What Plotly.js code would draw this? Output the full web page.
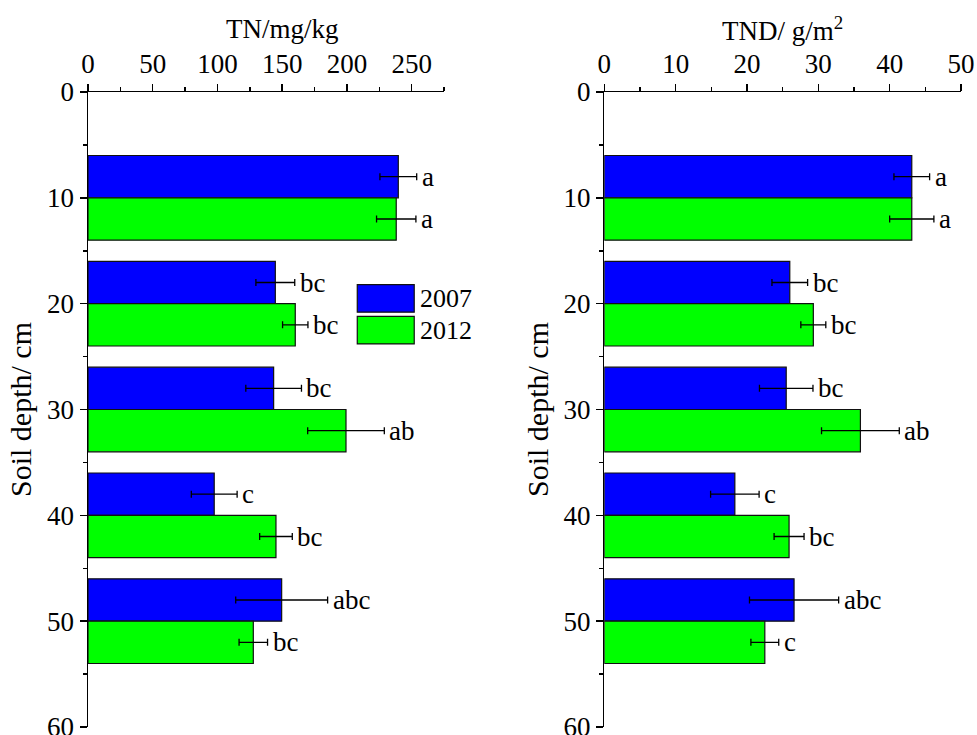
<!DOCTYPE html>
<html>
<head>
<meta charset="utf-8">
<script src="https://cdn.plot.ly/plotly-3.0.1.min.js"></script>
<style>html,body{margin:0;padding:0;background:#fff;}#chart{width:977px;height:735px;}</style>
</head>
<body>
<div id="chart"></div>
<script>
// ---- data ----
const depths = [10, 20, 30, 40, 50];
const years = ['2007', '2012'];

const tn2007 = [239.7, 144.7, 143.4, 97.5, 149.6];
const tn2007Err = [14.2, 15.0, 21.5, 17.7, 35.5];
const tn2007Sig = ['a', 'bc', 'bc', 'c', 'abc'];
const tn2012 = [238.1, 160.1, 199.3, 145.2, 127.7];
const tn2012Err = [15.2, 9.8, 29.6, 12.6, 11.0];
const tn2012Sig = ['a', 'bc', 'ab', 'bc', 'bc'];

const tnd2007 = [43.1, 26.0, 25.5, 18.3, 26.6];
const tnd2007Err = [2.5, 2.5, 3.75, 3.4, 6.25];
const tnd2007Sig = ['a', 'bc', 'bc', 'c', 'abc'];
const tnd2012 = [43.1, 29.3, 35.9, 25.9, 22.5];
const tnd2012Err = [3.1, 1.75, 5.45, 2.1, 1.95];
const tnd2012Sig = ['a', 'bc', 'ab', 'bc', 'c'];

// ---- style ----
const FONT = 'Liberation Serif, Times New Roman, serif';
const BLUE = '#0000FF', GREEN = '#00FF00';
const BAR_W = 4;

function barTrace(vals, errs, color, name, xa, ya) {
  return {
    type: 'bar', orientation: 'h', name: name,
    x: vals, y: depths, xaxis: xa, yaxis: ya,
    marker: {color: color, line: {color: '#111', width: 1.2}},
    error_x: {type: 'data', array: errs, visible: true, color: '#000', thickness: 1.3, width: 3.5},
    showlegend: false, hoverinfo: 'x+y'
  };
}

const traces = [
  barTrace(tn2007, tn2007Err, BLUE, years[0], 'x', 'y'),
  barTrace(tn2012, tn2012Err, GREEN, years[1], 'x', 'y'),
  barTrace(tnd2007, tnd2007Err, BLUE, years[0], 'x2', 'y2'),
  barTrace(tnd2012, tnd2012Err, GREEN, years[1], 'x2', 'y2')
];

const annotations = [];
function addSig(vals, errs, sig, offset, xr, yr) {
  vals.forEach((v, i) => {
    annotations.push({
      x: v + errs[i], y: depths[i] + offset, xref: xr, yref: yr,
      text: sig[i], showarrow: false, xanchor: 'left', yanchor: 'middle',
      xshift: 3, font: {family: FONT, size: 27, color: '#000'}
    });
  });
}
addSig(tn2007, tn2007Err, tn2007Sig, -BAR_W / 2, 'x', 'y');
addSig(tn2012, tn2012Err, tn2012Sig, BAR_W / 2, 'x', 'y');
addSig(tnd2007, tnd2007Err, tnd2007Sig, -BAR_W / 2, 'x2', 'y2');
addSig(tnd2012, tnd2012Err, tnd2012Sig, BAR_W / 2, 'x2', 'y2');

// axis titles (top)
annotations.push({x: 282 / 977, y: 1, xref: 'paper', yref: 'paper', yshift: 63, text: 'TN/mg/kg',
  showarrow: false, xanchor: 'center', yanchor: 'middle', font: {family: FONT, size: 27, color: '#000'}});
annotations.push({x: 782.5 / 977, y: 1, xref: 'paper', yref: 'paper', yshift: 63, text: 'TND/ g/m<sup>2</sup>',
  showarrow: false, xanchor: 'center', yanchor: 'middle', font: {family: FONT, size: 27, color: '#000'}});

// legend (drawn manually to mimic large swatches)
const shapes = [
  {type: 'rect', xref: 'x', yref: 'y', x0: 208, x1: 252, y0: 18.2, y1: 20.8, fillcolor: BLUE, line: {color: '#111', width: 1.2}},
  {type: 'rect', xref: 'x', yref: 'y', x0: 208, x1: 252, y0: 21.2, y1: 23.8, fillcolor: GREEN, line: {color: '#111', width: 1.2}}
];
annotations.push({x: 252, y: 19.5, xref: 'x', yref: 'y', xshift: 4, text: years[0], showarrow: false,
  xanchor: 'left', yanchor: 'middle', font: {family: FONT, size: 26, color: '#000'}});
annotations.push({x: 252, y: 22.5, xref: 'x', yref: 'y', xshift: 4, text: years[1], showarrow: false,
  xanchor: 'left', yanchor: 'middle', font: {family: FONT, size: 26, color: '#000'}});

function xAxis(domain, range, dtick, minor, anchor) {
  return {
    domain: domain, range: range, side: 'top', anchor: anchor,
    dtick: dtick, tick0: 0, ticks: 'outside', ticklen: 7, tickwidth: 1.5, tickcolor: '#000',
    minor: {dtick: minor, ticks: 'outside', ticklen: 4, tickwidth: 1.5, tickcolor: '#000'},
    showline: true, linecolor: '#000', linewidth: 1.5, showgrid: false, zeroline: false,
    tickfont: {family: FONT, size: 27, color: '#000'}, automargin: false, fixedrange: true,
    ticklabeloverflow: 'allow'
  };
}
function yAxis(anchor) {
  return {
    domain: [0, 1], range: [60, 0], anchor: anchor,
    dtick: 10, tick0: 0, ticks: 'outside', ticklen: 7, tickwidth: 1.5, tickcolor: '#000',
    minor: {dtick: 5, ticks: 'outside', ticklen: 4, tickwidth: 1.5, tickcolor: '#000'},
    showline: true, linecolor: '#000', linewidth: 1.5, showgrid: false, zeroline: false,
    tickfont: {family: FONT, size: 27, color: '#000'}, automargin: false, fixedrange: true,
    ticklabeloverflow: 'allow',
    title: {text: 'Soil depth/ cm', font: {family: FONT, size: 30, color: '#000'}, standoff: 6}
  };
}

const layout = {
  width: 977, height: 735,
  margin: {l: 0, r: 0, t: 92, b: 8, pad: 0},
  paper_bgcolor: '#fff', plot_bgcolor: '#fff',
  barmode: 'group', bargap: 1 - 2 * BAR_W / 10,
  xaxis: xAxis([88 / 977, 444 / 977], [0, 275], 50, 25, 'y'),
  yaxis: yAxis('x'),
  xaxis2: xAxis([604.3 / 977, 961 / 977], [0, 50], 10, 5, 'y2'),
  yaxis2: yAxis('x2'),
  showlegend: false,
  annotations: annotations, shapes: shapes,
  font: {family: FONT, color: '#000'}
};

Plotly.newPlot('chart', traces, layout, {displayModeBar: false, staticPlot: true});
</script>
</body>
</html>
